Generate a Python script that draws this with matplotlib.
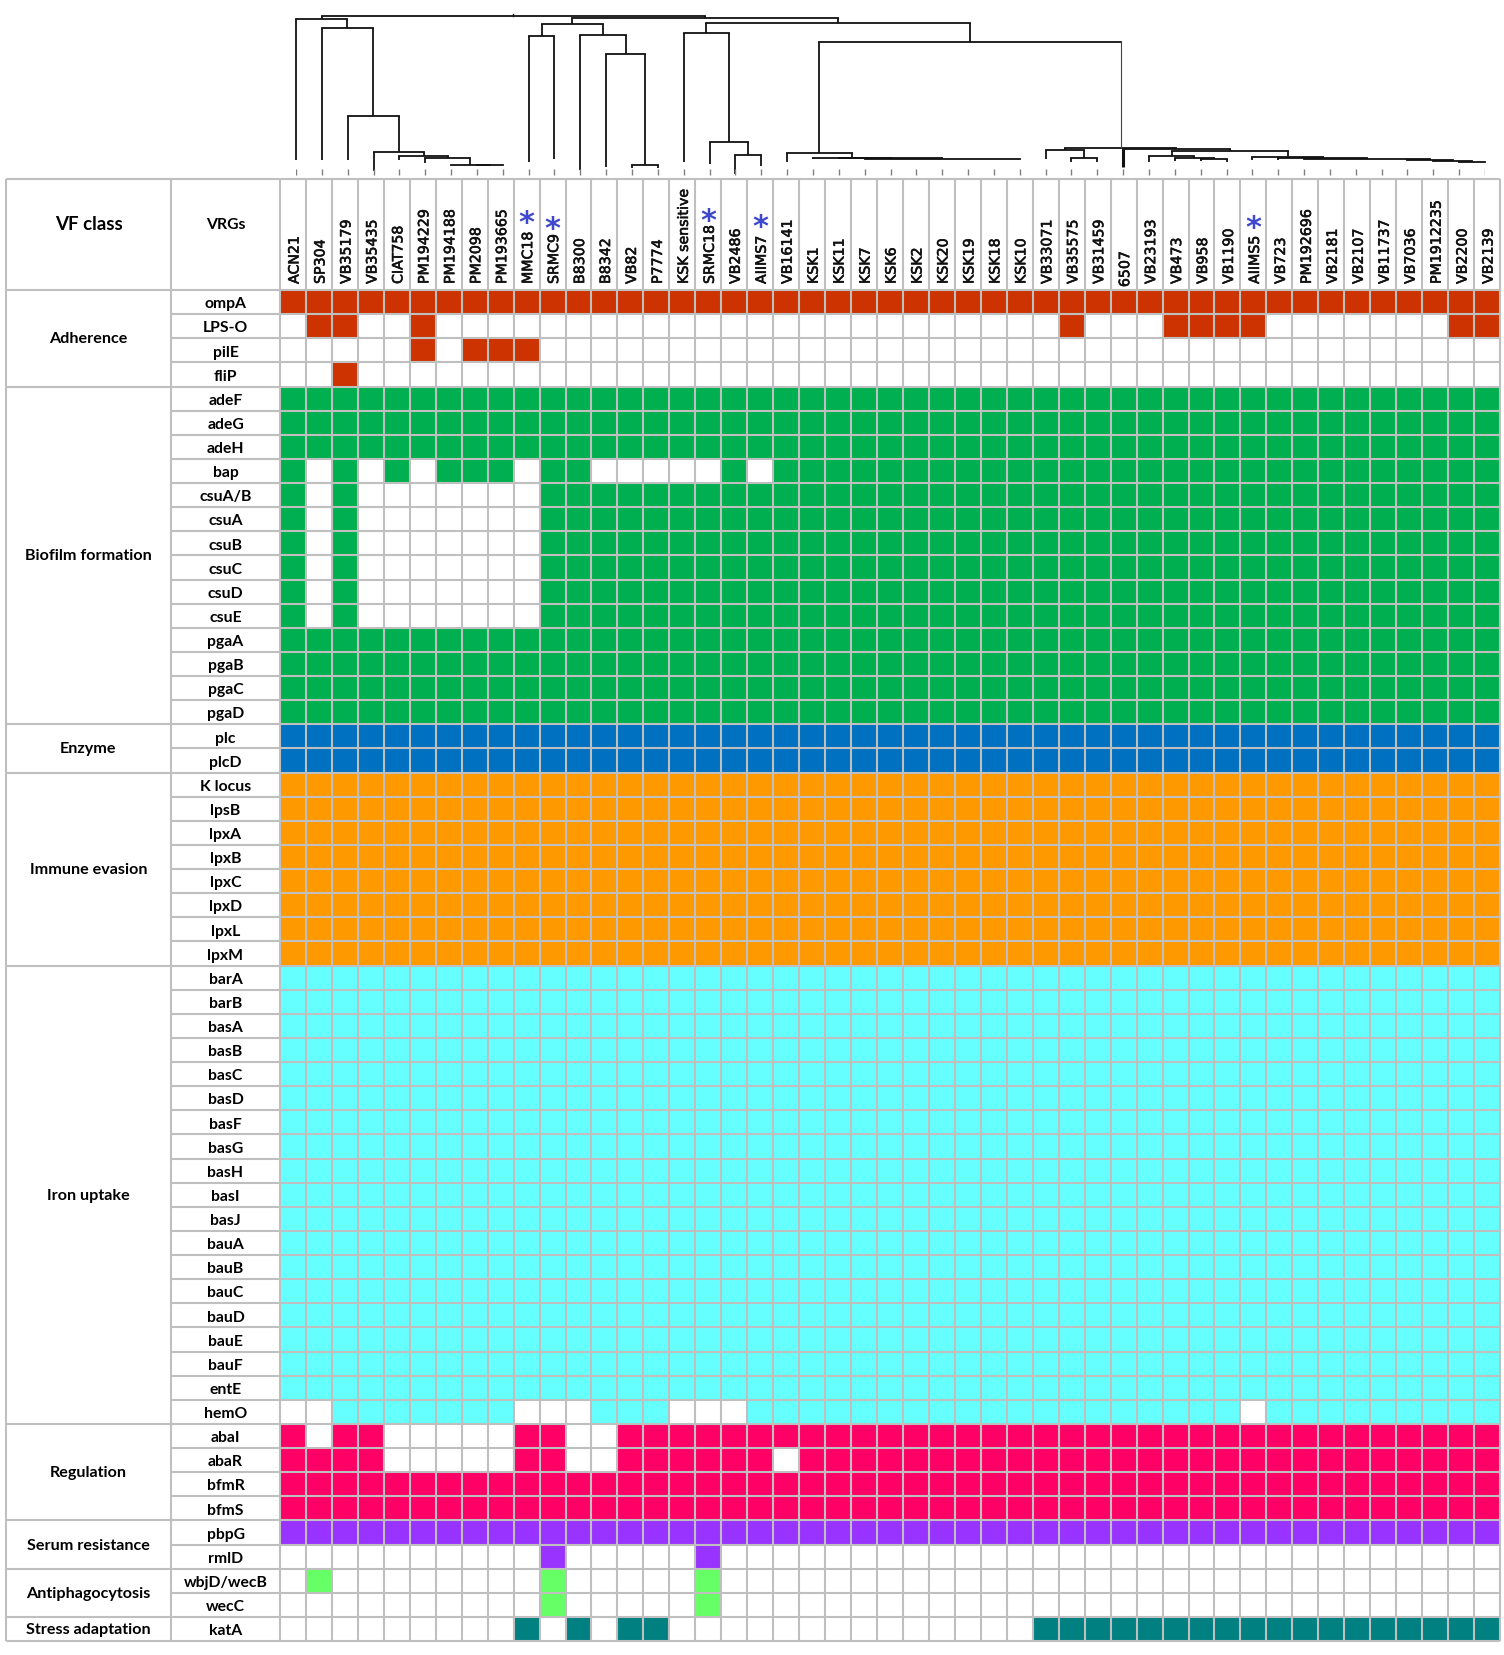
import matplotlib
matplotlib.use('Agg')
import matplotlib.pyplot as plt
import matplotlib.patheffects as pe
from matplotlib.colors import ListedColormap
import numpy as np

strains = ['ACN21', 'SP304', 'VB35179', 'VB35435', 'CIAT758', 'PM194229', 'PM194188', 'PM2098',
           'PM193665', 'MMC18', 'SRMC9', 'B8300', 'B8342', 'VB82', 'P7774', 'KSK sensitive',
           'SRMC18', 'VB2486', 'AIIMS7', 'VB16141', 'KSK1', 'KSK11', 'KSK7', 'KSK6', 'KSK2',
           'KSK20', 'KSK19', 'KSK18', 'KSK10', 'VB33071', 'VB35575', 'VB31459', '6507', 'VB23193',
           'VB473', 'VB958', 'VB1190', 'AIIMS5', 'VB723', 'PM192696', 'VB2181', 'VB2107',
           'VB11737', 'VB7036', 'PM1912235', 'VB2200', 'VB2139']

classes = ['Adherence', 'Biofilm formation', 'Enzyme', 'Immune evasion', 'Iron uptake',
           'Regulation', 'Serum resistance', 'Antiphagocytosis', 'Stress adaptation']
class_colors = ['#cc3300', '#00b050', '#0070c0', '#ff9900', '#66ffff',
                '#ff0066', '#9933ff', '#66ff66', '#008080']

adherence = ['ompA', 'LPS-O', 'pilE', 'fliP']
biofilm = ['adeF', 'adeG', 'adeH', 'bap', 'csuA/B', 'csuA', 'csuB', 'csuC', 'csuD', 'csuE',
           'pgaA', 'pgaB', 'pgaC', 'pgaD']
enzyme = ['plc', 'plcD']
immune = ['K locus', 'lpsB', 'lpxA', 'lpxB', 'lpxC', 'lpxD', 'lpxL', 'lpxM']
iron = ['barA', 'barB', 'basA', 'basB', 'basC', 'basD', 'basF', 'basG', 'basH', 'basI', 'basJ',
        'bauA', 'bauB', 'bauC', 'bauD', 'bauE', 'bauF', 'entE', 'hemO']
regulation = ['abaI', 'abaR', 'bfmR', 'bfmS']
serum = ['pbpG', 'rmlD']
antiphago = ['wbjD/wecB', 'wecC']
stress = ['katA']
class_genes = [adherence, biofilm, enzyme, immune, iron, regulation, serum, antiphago, stress]

# genes found in only some strains (column numbers)
csu_absent = [1, 3, 4, 5, 6, 7, 8, 9]
absent = {
    'bap': [1, 3, 5, 9, 12, 13, 14, 15, 16, 18],
    'csuA/B': csu_absent, 'csuA': csu_absent, 'csuB': csu_absent,
    'csuC': csu_absent, 'csuD': csu_absent, 'csuE': csu_absent,
    'hemO': [0, 1, 9, 10, 11, 15, 16, 17, 37],
    'abaI': [1, 4, 5, 6, 7, 8, 11, 12],
    'abaR': [4, 5, 6, 7, 8, 11, 12, 19],
}
present_only = {
    'LPS-O': [1, 2, 5, 30, 34, 35, 36, 37, 45, 46],
    'pilE': [5, 7, 8, 9],
    'fliP': [2],
    'rmlD': [10, 16],
    'wbjD/wecB': [1, 10, 16],
    'wecC': [10, 16],
    'katA': [9, 11, 13, 14] + list(range(29, 47)),
}

# dendrogram: name, children (leaf number or node name), height
tree = [
    ('n78', [7, 8], 14), ('n6', [6, 'n78'], 14), ('n5', [5, 'n6'], 21), ('n4', [4, 'n5'], 23.5),
    ('n3', [3, 'n4'], 27.5), ('n2', [2, 'n3'], 63), ('n1', [1, 'n2'], 151), ('A', [0, 'n1'], 160.5),
    ('n910', [9, 10], 143), ('n1314', [13, 14], 14), ('n12', [12, 'n1314'], 125),
    ('n11', [11, 'n12'], 144), ('b1', ['n910', 'n11'], 155),
    ('n1718', [17, 18], 24), ('n16', [16, 'n1718'], 37), ('n15', [15, 'n16'], 146.3),
    ('ksk3', [22, 23, 24, 25, 26, 27, 28], 20), ('ksk2', [21, 'ksk3'], 20.7), ('ksk', [20, 'ksk2'], 21),
    ('n19', [19, 'ksk'], 26),
    ('n3031', [30, 31], 21), ('n29', [29, 'n3031'], 29),
    ('n3536', [35, 36], 20), ('n34', [34, 'n3536'], 20.7), ('n33', [33, 'n34'], 23.3),
    ('n4546', [45, 46], 17), ('n44', [44, 'n4546'], 18), ('n43', [43, 'n44'], 18.7),
    ('n39', [39, 40, 41, 42, 'n43'], 20), ('n38', [38, 'n39'], 20.7), ('n37', [37, 'n38'], 22),
    ('nr', ['n33', 'n37'], 28), ('n32', [32, 'nr'], 30), ('ntop', ['n29', 'n32'], 31),
    ('big', ['n19', 'ntop'], 137.5), ('c', ['n15', 'big'], 156), ('B', ['b1', 'c'], 160.7),
    ('root', ['A', 'B'], 163.5),
]
leaf_base = [19, 19, 19, 8, 19, 16, 14, 14, 14, 17, 20, 9, 12, 11, 11, 17, 15, 5, 13, 17,
             20, 20, 20, 20, 20, 20, 20, 20, 20, 20, 17, 17, 12, 17, 18, 18, 17, 19, 19,
             20, 20, 20, 20, 19, 18, 17, 17]

# how far below the top of the header the blue stars sit
stars = {'MMC18': 36, 'SRMC9': 42.5, 'SRMC18': 35, 'AIIMS7': 40.5, 'AIIMS5': 41.5}

grid_color = '#bfbfbf'
label_font = 'Lato'

genes = [g for group in class_genes for g in group]
n_rows = len(genes)
n_cols = len(strains)

matrix = np.zeros((n_rows, n_cols))
row = 0
for c, group in enumerate(class_genes):
    for g in group:
        if g in present_only:
            matrix[row, present_only[g]] = c + 1
        else:
            matrix[row, :] = c + 1
            if g in absent:
                matrix[row, absent[g]] = 0
        row += 1

W, H = 1504, 1656
fig = plt.figure(figsize=(W / 100, H / 100), dpi=100)

# table axes, x in columns and y in rows
px_left, px_right, px_top, px_bottom = 6, 1500, 180, 1642
col_w = (1500 - 280) / n_cols
row_h = (1642 - 291) / n_rows
x_min = (px_left - 280) / col_w
x_gene = (171 - 280) / col_w
y_min = (px_top - 291) / row_h
ax = fig.add_axes([px_left / W, 1 - px_bottom / H, (px_right - px_left) / W, (px_bottom - px_top) / H])
ax.set_xlim(x_min, n_cols)
ax.set_ylim(n_rows, y_min)
ax.axis('off')

cmap = ListedColormap(['#ffffff'] + class_colors)
ax.pcolormesh(np.arange(n_cols + 1), np.arange(n_rows + 1), matrix, cmap=cmap, vmin=0, vmax=len(classes))

ax.vlines(np.arange(n_cols + 1), y_min, n_rows, color=grid_color, lw=1.5, clip_on=False)
ax.vlines([x_min, x_gene], y_min, n_rows, color=grid_color, lw=1.5, clip_on=False)
ax.hlines(np.arange(n_rows + 1), x_gene, n_cols, color=grid_color, lw=1.5, clip_on=False)
ax.hlines(y_min, x_min, n_cols, color=grid_color, lw=1.5, clip_on=False)

x_class = (x_min + x_gene) / 2
x_name = x_gene / 2
start = 0
ax.hlines(0, x_min, x_gene, color=grid_color, lw=1.5)
for name, group in zip(classes, class_genes):
    ax.text(x_class, start + len(group) / 2, name, ha='center', va='center',
            fontsize=11.6, fontweight='bold', family=label_font)
    start += len(group)
    ax.hlines(start, x_min, x_gene, color=grid_color, lw=1.5, clip_on=False)

for i, g in enumerate(genes):
    ax.text(x_name, i + 0.55, g, ha='center', va='center', fontsize=11.3, fontweight='bold',
            family=label_font)

y_head = (225 - 291) / row_h
ax.text(x_class, y_head, 'VF class', ha='center', va='center', fontsize=13.5,
        fontweight='bold', family=label_font)
ax.text(x_name, y_head, 'VRGs', ha='center', va='center', fontsize=11.3,
        fontweight='bold', family=label_font)

darker = [pe.withStroke(linewidth=0.45, foreground='#111111')]
for i, s in enumerate(strains):
    y_text = -0.25 if s != '6507' else -0.12
    ax.text(i + 0.56, y_text, s, rotation=90, ha='center', va='bottom', fontsize=10.2,
            family='DejaVu Sans', color='#111111', path_effects=darker)
    if s in stars:
        ax.text(i + 0.5, (stars[s] + 7 + 180 - 291) / row_h, '*', ha='center', va='center',
                fontsize=22, fontweight='bold', color='#3f48cc', family='DejaVu Sans')

# dendrogram axes, x in leaf numbers
leaf_first, leaf_last, d_height = 296, 1485, 180
ax_d = fig.add_axes([leaf_first / W, 1 - d_height / H, (leaf_last - leaf_first) / W, d_height / H])
ax_d.set_xlim(0, n_cols - 1)
ax_d.set_ylim(0, d_height)
ax_d.axis('off')

pos = {}
height = {}
for i in range(n_cols):
    pos[i] = i
    height[i] = leaf_base[i]
for name, children, h in tree:
    xs = [pos[c] for c in children]
    pos[name] = (xs[0] + xs[-1]) / 2
    height[name] = h
    ax_d.plot([xs[0], xs[-1]], [h, h], color='#111111', lw=1.3, solid_capstyle='projecting', clip_on=False)
    for c in children:
        lw = 1.3
        col = '#111111'
        if c == 'ntop':
            lw, col = 0.8, '#444444'
        if c == 32:
            lw = 2.2
        ax_d.plot([pos[c], pos[c]], [height[c], h], color=col, lw=lw, solid_capstyle='butt', clip_on=False)

ax_d.plot([pos['root'], pos['root']], [height['root'], height['root'] + 2], color='#111111', lw=1)
ax_d.vlines(np.arange(n_cols), 4, 10, color='#808080', lw=1)

fig.savefig('out.png', dpi=100, facecolor='white')
